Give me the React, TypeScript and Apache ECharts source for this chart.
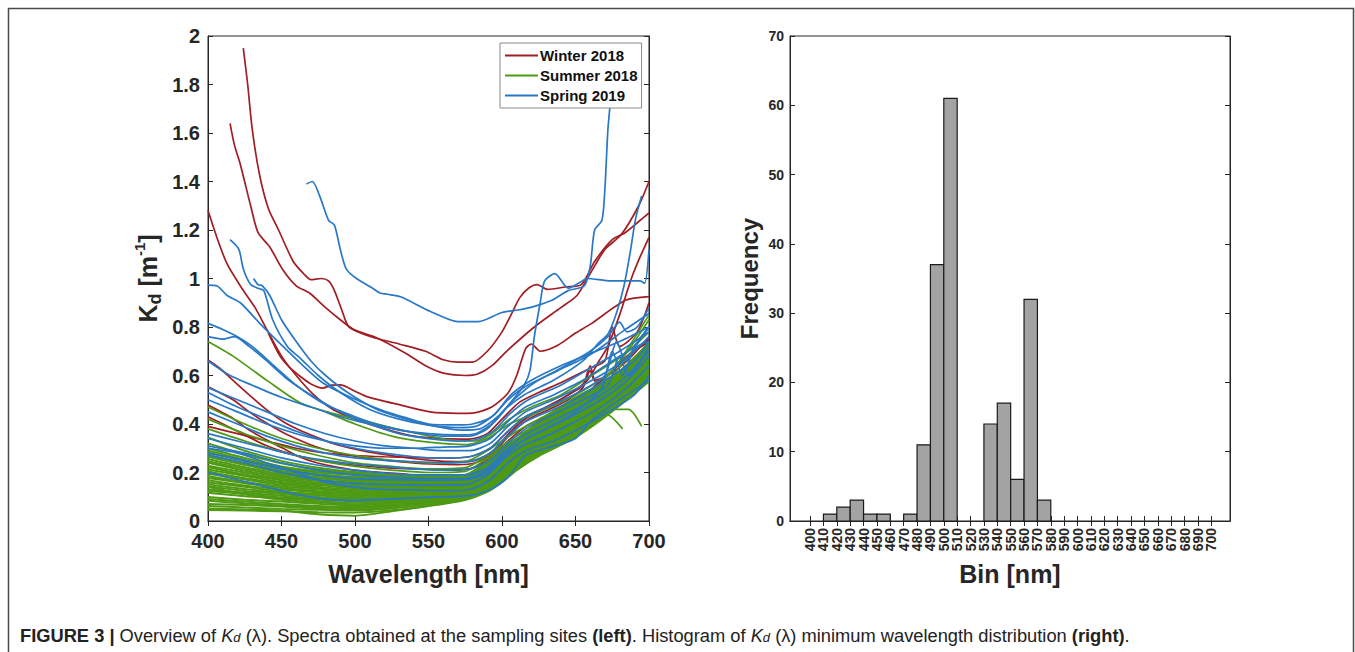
import React, { useEffect, useRef } from "react";
import * as echarts from "echarts";

// ---------------- DATA ----------------
// Left panel: Kd(λ) spectra, each line is a list of [wavelength nm, Kd m^-1]
const winterLines: number[][][] = [
  [[424,1.95],[427,1.8],[430,1.62],[435,1.43],[441,1.29],[448,1.2],[458,1.07],[465,1.02],[470,0.995],[477,1.0],[482,0.99],[486,0.95],[491,0.87],[496,0.8],[511,0.76],[530,0.73],[548,0.70],[560,0.665],[570,0.655],[580,0.655],[590,0.70],[600,0.78],[607,0.86],[612,0.92],[618,0.96],[624,0.975],[631,0.955],[643,0.965],[654,0.975],[663,1.07],[675,1.16],[684,1.19],[693,1.235],[700,1.27]],
  [[415,1.64],[418,1.55],[422,1.47],[429,1.3],[434,1.19],[442,1.13],[451,1.035],[460,0.97],[469,0.94],[480,0.88],[490,0.83],[499,0.79],[515,0.755],[535,0.69],[548,0.64],[560,0.61],[575,0.60],[583,0.605],[593,0.64],[604,0.705],[622,0.8],[640,0.88],[651,0.93],[660,1.02],[670,1.12],[681,1.18],[693,1.30],[700,1.40]],
  [[441,0.776],[449,0.68],[456,0.63],[463,0.595],[470,0.565],[478,0.548],[484,0.56],[490,0.561],[500,0.535],[508,0.513],[531,0.478],[551,0.45],[570,0.444],[580,0.445],[593,0.47],[604,0.527],[610,0.6],[616,0.71],[620,0.73],[626,0.70],[638,0.725],[650,0.775],[661,0.815],[684,0.91],[700,0.925]],
  [[400,1.28],[406,1.17],[413,1.06],[423,0.96],[432,0.88],[440,0.79],[450,0.68],[460,0.60],[472,0.52],[485,0.46],[500,0.42],[520,0.38],[540,0.35],[560,0.34],[578,0.338],[590,0.36],[600,0.42],[612,0.49],[625,0.53],[640,0.57],[660,0.63],[670,0.66],[675,0.80],[680,0.72],[692,0.78],[700,0.9]],
  [[400,0.664],[408,0.63],[417,0.58],[428,0.52],[440,0.458],[451,0.41],[462,0.375],[474,0.345],[485,0.32],[497,0.3],[508,0.286],[530,0.265],[551,0.25],[570,0.245],[582,0.25],[594,0.29],[606,0.37],[618,0.43],[632,0.47],[645,0.52],[658,0.58],[666,0.66],[672,0.72],[680,0.85],[688,1.0],[694,1.09],[700,1.17]],
  [[400,0.554],[417,0.5],[428,0.45],[440,0.403],[451,0.365],[462,0.334],[474,0.305],[485,0.286],[497,0.27],[508,0.26],[530,0.245],[551,0.235],[570,0.232],[582,0.24],[594,0.28],[606,0.36],[618,0.42],[632,0.46],[645,0.5],[655,0.55],[660,0.62],[663,0.58],[672,0.6],[685,0.66],[700,0.76]],
  [[400,0.478],[417,0.423],[428,0.375],[440,0.334],[451,0.3],[462,0.265],[474,0.24],[485,0.225],[497,0.212],[508,0.205],[530,0.195],[551,0.185],[570,0.185],[582,0.19],[594,0.23],[606,0.31],[618,0.37],[632,0.41],[645,0.46],[660,0.52],[672,0.6],[685,0.68],[700,0.74]],
  [[400,0.43],[420,0.37],[440,0.31],[460,0.27],[480,0.245],[500,0.23],[520,0.22],[540,0.215],[560,0.21],[578,0.215],[592,0.26],[604,0.33],[616,0.39],[630,0.43],[645,0.47],[660,0.54],[675,0.62],[690,0.7],[700,0.75]],
  [[400,0.39],[420,0.36],[440,0.33],[460,0.3],[480,0.28],[500,0.27],[520,0.265],[540,0.262],[560,0.26],[578,0.265],[592,0.3],[604,0.37],[616,0.43],[630,0.47],[645,0.52],[655,0.56],[660,0.64],[664,0.57],[675,0.62],[690,0.7],[700,0.74]],
];

const summerWavelengths = [400,425,450,475,500,525,550,575,590,600,610,625,650,675,700];
const summerBand: number[][] = [
  [.045,.043,.040,.036,.035,.044,.062,.087,.120,.160,.210,.268,.345,.452,.575],
  [.052,.047,.043,.028,.022,.040,.063,.090,.124,.165,.214,.275,.350,.455,.580],
  [.062,.056,.050,.046,.044,.052,.069,.093,.128,.170,.219,.279,.355,.460,.586],
  [.070,.066,.060,.051,.047,.058,.075,.097,.132,.174,.222,.284,.361,.463,.590],
  [.083,.073,.064,.057,.053,.063,.078,.100,.137,.178,.226,.287,.366,.468,.596],
  [.091,.080,.070,.062,.058,.067,.083,.104,.141,.183,.231,.292,.372,.472,.600],
  [.099,.088,.080,.071,.064,.073,.086,.108,.145,.186,.235,.298,.377,.478,.606],
  [.140,.110,.088,.077,.069,.078,.091,.110,.149,.191,.238,.300,.383,.481,.612],
  [.116,.102,.093,.082,.075,.083,.094,.114,.154,.196,.245,.305,.387,.486,.615],
  [.124,.111,.097,.089,.081,.088,.099,.117,.157,.200,.247,.311,.394,.490,.621],
  [.130,.117,.104,.093,.085,.091,.103,.121,.160,.204,.252,.314,.398,.495,.626],
  [.143,.124,.111,.099,.092,.097,.106,.124,.166,.209,.255,.320,.403,.499,.630],
  [.151,.132,.116,.106,.097,.102,.111,.127,.169,.213,.260,.323,.410,.503,.635],
  [.159,.141,.122,.111,.103,.107,.115,.131,.174,.218,.264,.328,.414,.508,.641],
  [.168,.146,.130,.118,.108,.112,.118,.134,.178,.222,.268,.333,.420,.512,.645],
  [.177,.156,.136,.123,.114,.117,.123,.138,.183,.228,.272,.338,.425,.518,.650],
  [.186,.161,.142,.130,.119,.122,.126,.141,.186,.233,.276,.342,.431,.522,.656],
  [.195,.171,.149,.135,.125,.127,.131,.145,.190,.237,.281,.346,.436,.527,.660],
  [.204,.176,.156,.141,.130,.133,.135,.148,.195,.241,.285,.351,.441,.530,.666],
  [.212,.186,.161,.148,.136,.136,.140,.152,.199,.246,.289,.356,.446,.536,.670],
  [.222,.192,.168,.152,.141,.142,.143,.155,.203,.250,.293,.361,.452,.540,.676],
  [.228,.200,.174,.158,.147,.146,.147,.158,.207,.254,.297,.364,.457,.545,.680],
  [.240,.207,.180,.165,.152,.151,.151,.161,.211,.259,.300,.369,.462,.549,.686],
  [.246,.215,.187,.169,.158,.155,.155,.164,.215,.263,.305,.373,.468,.553,.690],
  [.256,.222,.193,.176,.164,.161,.160,.168,.219,.268,.309,.378,.473,.558,.696],
  [.265,.231,.200,.181,.169,.165,.163,.171,.224,.272,.314,.382,.478,.562,.700],
  [.274,.237,.206,.188,.175,.171,.168,.175,.228,.277,.318,.387,.484,.567,.706],
  [.283,.246,.213,.193,.181,.175,.172,.178,.232,.281,.322,.391,.489,.571,.710],
  [.291,.252,.220,.200,.189,.180,.176,.182,.236,.286,.326,.396,.495,.576,.715],
  [.300,.260,.225,.205,.195,.185,.180,.185,.240,.290,.330,.400,.500,.580,.720],
  [.320,.275,.238,.212,.198,.188,.183,.188,.244,.294,.334,.404,.505,.586,.728],
  [.345,.290,.248,.220,.202,.190,.185,.191,.247,.297,.338,.409,.510,.592,.735],
];
const summerExtra: number[][][] = [
  [[400,0.74],[417,0.68],[440,0.58],[462,0.49],[481,0.45],[508,0.41],[535,0.37],[551,0.35],[570,0.33],[582,0.33],[593,0.36],[605,0.42],[620,0.47],[640,0.52],[661,0.6],[684,0.69],[700,0.78]],
  [[400,0.47],[425,0.40],[450,0.34],[475,0.30],[500,0.27],[525,0.25],[550,0.24],[575,0.245],[590,0.29],[600,0.33],[610,0.37],[625,0.42],[650,0.5],[675,0.6],[700,0.8]],
  [[400,0.42],[425,0.36],[450,0.31],[475,0.27],[500,0.24],[525,0.225],[550,0.215],[575,0.22],[590,0.27],[600,0.31],[610,0.35],[625,0.4],[650,0.48],[675,0.57],[700,0.74]],
  [[400,0.38],[425,0.33],[450,0.285],[475,0.25],[500,0.225],[525,0.21],[550,0.20],[575,0.205],[590,0.26],[600,0.3],[610,0.34],[625,0.39],[650,0.47],[675,0.62],[700,0.85]],
  [[480,0.45],[500,0.40],[525,0.35],[550,0.325],[575,0.315],[590,0.34],[605,0.4],[625,0.45],[650,0.52],[675,0.62],[700,0.83]],
  [[640,0.38],[655,0.41],[665,0.43],[671,0.44],[682,0.38]],
  [[655,0.42],[670,0.46],[686,0.46],[690,0.44],[695,0.39]],
];

const springLines: number[][][] = [
  [[467,1.39],[471,1.40],[476,1.34],[482,1.24],[486,1.22],[490,1.12],[494,1.04],[501,1.0],[512,0.96],[517,0.94],[522,0.935],[531,0.925],[551,0.865],[570,0.822],[584,0.822],[600,0.86],[611,0.87],[622,0.885],[634,0.91],[645,0.95],[656,0.97],[660,1.05],[663,1.2],[668,1.24],[670,1.37],[672,1.61],[674,1.75],[676,1.95]],
  [[415,1.16],[421,1.12],[424,1.04],[429,0.975],[434,0.96],[438,0.95],[444,0.83],[454,0.72],[463,0.67],[475,0.60],[490,0.53],[510,0.46],[530,0.42],[550,0.395],[570,0.385],[582,0.39],[595,0.44],[606,0.52],[620,0.58],[640,0.64],[660,0.69],[680,0.74],[700,0.80]],
  [[431,1.0],[434,0.975],[437,0.97],[442,0.93],[450,0.83],[460,0.74],[470,0.66],[480,0.60],[495,0.53],[515,0.46],[535,0.42],[555,0.39],[572,0.375],[585,0.38],[597,0.43],[608,0.50],[622,0.57],[640,0.63],[660,0.7],[672,0.76],[680,0.82],[685,0.78],[692,0.8],[700,0.88]],
  [[400,0.66],[415,0.6],[430,0.56],[450,0.51],[470,0.47],[490,0.43],[510,0.4],[530,0.375],[550,0.36],[570,0.355],[582,0.36],[595,0.41],[606,0.49],[615,0.56],[619,0.62],[622,0.76],[626,0.9],[629,0.99],[636,1.02],[645,0.96],[652,0.98],[658,1.0],[674,0.99],[694,0.99],[697,0.98],[700,1.12]],
  [[400,0.815],[410,0.79],[420,0.76],[430,0.72],[445,0.64],[460,0.56],[480,0.48],[500,0.43],[520,0.39],[540,0.365],[560,0.35],[578,0.35],[590,0.38],[602,0.46],[615,0.52],[635,0.58],[655,0.66],[665,0.73],[672,0.77],[678,0.86],[683,0.97],[687,1.1],[691,1.25],[695,1.34]],
  [[400,0.973],[406,0.97],[413,0.93],[422,0.9],[436,0.81],[451,0.72],[463,0.65],[478,0.57],[497,0.51],[517,0.46],[535,0.425],[550,0.40],[570,0.396],[580,0.40],[593,0.43],[604,0.5],[616,0.555],[638,0.62],[661,0.69],[684,0.79],[700,0.856]],
  [[400,0.76],[410,0.75],[418,0.76],[428,0.72],[440,0.66],[455,0.58],[470,0.52],[490,0.45],[510,0.40],[530,0.36],[550,0.34],[570,0.33],[582,0.335],[594,0.37],[605,0.44],[618,0.5],[640,0.56],[660,0.63],[680,0.7],[700,0.78]],
  [[400,0.55],[420,0.5],[440,0.45],[460,0.40],[480,0.36],[500,0.33],[520,0.31],[540,0.3],[560,0.29],[578,0.29],[592,0.32],[604,0.39],[616,0.45],[635,0.5],[655,0.56],[675,0.63],[690,0.7],[700,0.76]],
  [[400,0.53],[420,0.47],[440,0.42],[460,0.37],[480,0.33],[500,0.3],[520,0.28],[540,0.265],[560,0.26],[578,0.265],[592,0.3],[604,0.37],[616,0.43],[635,0.48],[655,0.54],[670,0.6],[678,0.74],[684,0.66],[692,0.72],[700,0.74]],
  [[400,0.36],[420,0.33],[440,0.3],[460,0.27],[480,0.25],[500,0.235],[520,0.225],[540,0.215],[560,0.21],[578,0.215],[592,0.25],[604,0.32],[616,0.38],[635,0.44],[655,0.5],[672,0.56],[680,0.68],[686,0.6],[700,0.72]],
  [[400,0.34],[425,0.3],[450,0.26],[475,0.23],[500,0.21],[525,0.195],[550,0.19],[575,0.19],[590,0.22],[602,0.29],[614,0.35],[630,0.4],[650,0.46],[670,0.53],[685,0.6],[700,0.7]],
  [[400,0.31],[425,0.28],[450,0.24],[475,0.21],[500,0.19],[525,0.18],[550,0.175],[575,0.175],[590,0.21],[602,0.28],[614,0.33],[630,0.38],[650,0.44],[670,0.51],[685,0.58],[700,0.68]],
  [[400,0.27],[425,0.24],[450,0.2],[475,0.17],[500,0.155],[525,0.15],[550,0.148],[575,0.15],[590,0.19],[602,0.26],[614,0.31],[630,0.35],[650,0.41],[670,0.48],[685,0.55],[700,0.64]],
  [[400,0.30],[420,0.28],[440,0.24],[460,0.2],[480,0.16],[500,0.14],[520,0.13],[540,0.128],[560,0.125],[578,0.13],[592,0.17],[604,0.24],[616,0.29],[635,0.33],[655,0.39],[675,0.46],[690,0.52],[700,0.6]],
  [[400,0.20],[420,0.17],[440,0.14],[460,0.11],[485,0.087],[500,0.085],[520,0.09],[540,0.095],[560,0.1],[578,0.105],[592,0.13],[604,0.18],[616,0.27],[630,0.3],[650,0.34],[661,0.416],[680,0.5],[700,0.58]],
  [[400,0.28],[425,0.25],[450,0.215],[475,0.19],[500,0.175],[525,0.17],[550,0.168],[575,0.17],[590,0.2],[602,0.27],[614,0.33],[630,0.38],[650,0.45],[668,0.55],[675,0.7],[682,0.6],[690,0.72],[700,0.8]],
  [[400,0.45],[420,0.4],[440,0.35],[460,0.31],[480,0.28],[500,0.26],[520,0.25],[540,0.245],[560,0.24],[578,0.245],[592,0.28],[604,0.35],[616,0.41],[635,0.46],[655,0.52],[675,0.6],[690,0.66],[700,0.74]],
  [[400,0.5],[420,0.45],[440,0.4],[460,0.36],[480,0.33],[500,0.31],[520,0.3],[540,0.3],[560,0.305],[578,0.31],[592,0.34],[604,0.41],[616,0.47],[635,0.52],[655,0.58],[675,0.66],[690,0.72],[700,0.8]],
];

// Right panel: histogram of minimum wavelength
const histBinStart = [400,410,420,430,440,450,460,470,480,490,500,510,520,530,540,550,560,570,580,590,600,610,620,630,640,650,660,670,680,690];
const histCounts   = [0,1,2,3,1,1,0,1,11,37,61,0,0,14,17,6,32,3,0,0,0,0,0,0,0,0,0,0,0,0];
const histTickValues = [400,410,420,430,440,450,460,470,480,490,500,510,520,530,540,550,560,570,580,590,600,610,620,630,640,650,660,670,680,690,700];
const histAxisMin = 385;
const histAxisMax = 714;

const seasonNames = ["Winter 2018", "Summer 2018", "Spring 2019"];
const seasonColors = ["#A01E24", "#4F9A14", "#2878C6"];

// ---------------- CHART ----------------
const FONT = "'Liberation Sans', Arial, Helvetica, sans-serif";
const AX = "#262626";
const CAP_FONT = "'Liberation Sans', Arial, sans-serif";

function lineSeries(name: string, color: string, data: number[][], width: number) {
  return {
    type: "line",
    name,
    xAxisIndex: 0,
    yAxisIndex: 0,
    data,
    symbol: "none",
    showSymbol: false,
    smooth: 0.25,
    silent: true,
    lineStyle: { color, width },
    itemStyle: { color },
  };
}

function buildOption() {
  const series: any[] = [];
  winterLines.forEach((l) => series.push(lineSeries(seasonNames[0], seasonColors[0], l, 1.7)));
  summerBand.forEach((row) =>
    series.push(lineSeries(seasonNames[1], seasonColors[1], summerWavelengths.map((w, i) => [w, row[i]]), 2))
  );
  summerExtra.forEach((l) => series.push(lineSeries(seasonNames[1], seasonColors[1], l, 1.7)));
  springLines.forEach((l) => series.push(lineSeries(seasonNames[2], seasonColors[2], l, 1.7)));

  const histData = histBinStart
    .map((s, i) => [s, s + 10, histCounts[i]])
    .filter((d) => d[2] > 0);

  series.push({
    type: "custom",
    xAxisIndex: 2,
    yAxisIndex: 2,
    silent: true,
    data: histData,
    encode: { x: [0, 1], y: 2 },
    renderItem: (params: any, api: any) => {
      const p0 = api.coord([api.value(0), api.value(2)]);
      const p1 = api.coord([api.value(1), 0]);
      return {
        type: "rect",
        shape: { x: p0[0], y: p0[1], width: p1[0] - p0[0], height: p1[1] - p0[1] },
        style: { fill: "#A3A3A3", stroke: "#1a1a1a", lineWidth: 1.2 },
      };
    },
  });

  const tickInside = { show: true, inside: true, length: 5, lineStyle: { color: AX, width: 1 } };
  const axLine = { show: true, lineStyle: { color: AX, width: 1 } };
  // padded with the axis ends so ECharts' min/max label handling only touches the (blank) end labels
  const histLabelValues = [histAxisMin, ...histTickValues, histAxisMax];

  return {
    animation: false,
    backgroundColor: "#ffffff",
    grid: [
      { left: 208, top: 36, width: 441, height: 485, show: true, borderColor: AX, borderWidth: 1 },
      { left: 790, top: 36, width: 440, height: 485, show: true, borderColor: AX, borderWidth: 1 },
    ],
    legend: {
      data: seasonNames,
      orient: "vertical",
      left: 500,
      top: 43,
      icon: "rect",
      itemWidth: 33,
      itemHeight: 2,
      itemGap: 5,
      padding: [5, 4, 5, 5],
      backgroundColor: "#ffffff",
      borderColor: "#8a8a8a",
      borderWidth: 1,
      borderRadius: 0,
      selectedMode: false,
      textStyle: { fontSize: 15, fontWeight: "bold", color: "#111", fontFamily: FONT, lineHeight: 15, padding: [0, 0, 0, -3] },
    },
    xAxis: [
      {
        gridIndex: 0, type: "value", min: 400, max: 700, interval: 50, position: "bottom",
        axisLine: axLine, axisTick: tickInside, splitLine: { show: false },
        axisLabel: { fontSize: 20, fontWeight: "bold", color: AX, fontFamily: FONT, margin: 11, lineHeight: 18 },
        name: "Wavelength [nm]", nameLocation: "middle", nameGap: 40,
        nameTextStyle: { fontSize: 25, fontWeight: "bold", color: AX, fontFamily: FONT },
      },
      {
        gridIndex: 0, type: "value", min: 400, max: 700, interval: 50, position: "top",
        axisLine: axLine, axisTick: tickInside, axisLabel: { show: false }, splitLine: { show: false },
      },
      {
        gridIndex: 1, type: "value", min: histAxisMin, max: histAxisMax, position: "bottom",
        axisLine: axLine,
        axisTick: { ...tickInside, customValues: histLabelValues },
        splitLine: { show: false },
        axisLabel: {
          customValues: histLabelValues, rotate: 90, fontSize: 14, fontWeight: "bold",
          color: AX, fontFamily: FONT, margin: 7,
          showMinLabel: false, showMaxLabel: false, hideOverlap: false,
          formatter: (v: number) => (v === histAxisMin || v === histAxisMax ? "" : String(v)),
        },
        name: "Bin [nm]", nameLocation: "middle", nameGap: 40,
        nameTextStyle: { fontSize: 25, fontWeight: "bold", color: AX, fontFamily: FONT },
      },
      {
        gridIndex: 1, type: "value", min: histAxisMin, max: histAxisMax, position: "top",
        axisLine: axLine,
        axisTick: { ...tickInside, customValues: histTickValues },
        axisLabel: { show: false }, splitLine: { show: false },
      },
    ],
    yAxis: [
      {
        gridIndex: 0, type: "value", min: 0, max: 2, interval: 0.2, position: "left",
        axisLine: axLine, axisTick: tickInside, splitLine: { show: false },
        axisLabel: { fontSize: 20, fontWeight: "bold", color: AX, fontFamily: FONT, margin: 8, lineHeight: 16 },
        name: "{a|K}{s|d}{a| [m}{p|-1}{a|]}", nameLocation: "middle", nameGap: 44,
        nameTextStyle: {
          color: AX, fontFamily: FONT,
          rich: {
            a: { fontSize: 25, fontWeight: "bold", color: AX, fontFamily: FONT, lineHeight: 32, verticalAlign: "middle" },
            s: { fontSize: 18, fontWeight: "bold", color: AX, fontFamily: FONT, lineHeight: 18, verticalAlign: "bottom" },
            p: { fontSize: 15, fontWeight: "bold", color: AX, fontFamily: FONT, lineHeight: 15, verticalAlign: "top" },
          },
        },
      },
      {
        gridIndex: 0, type: "value", min: 0, max: 2, interval: 0.2, position: "right",
        axisLine: axLine, axisTick: tickInside, axisLabel: { show: false }, splitLine: { show: false },
      },
      {
        gridIndex: 1, type: "value", min: 0, max: 70, interval: 10, position: "left",
        axisLine: axLine, axisTick: tickInside, splitLine: { show: false },
        axisLabel: { fontSize: 14, fontWeight: "bold", color: AX, fontFamily: FONT, margin: 6 },
        name: "Frequency", nameLocation: "middle", nameGap: 29,
        nameTextStyle: { fontSize: 24, fontWeight: "bold", color: AX, fontFamily: FONT },
      },
      {
        gridIndex: 1, type: "value", min: 0, max: 70, interval: 10, position: "right",
        axisLine: axLine, axisTick: tickInside, axisLabel: { show: false }, splitLine: { show: false },
      },
    ],
    graphic: [
      {
        type: "rect",
        silent: true,
        shape: { x: 8.5, y: 8.5, width: 1345, height: 720 },
        style: { fill: "none", stroke: "#4a4a4a", lineWidth: 1.5 },
        z: 0,
      },
      {
        type: "text",
        silent: true,
        x: 20,
        y: 635,
        style: {
          text:
            "{b|FIGURE 3} {b||} Overview of {i|K}{is|d} (λ). Spectra obtained at the sampling sites {b|(left)}. Histogram of {i|K}{is|d} (λ) minimum wavelength distribution {b|(right)}.",
          font: "18.3px " + CAP_FONT,
          fill: "#222",
          verticalAlign: "middle",
          rich: {
            b: { fontWeight: "bold", fontSize: 18.3, fontFamily: CAP_FONT, fill: "#222" },
            i: { fontStyle: "italic", fontSize: 18.3, fontFamily: CAP_FONT, fill: "#222" },
            is: { fontStyle: "italic", fontSize: 13, fontFamily: CAP_FONT, fill: "#222", verticalAlign: "bottom", lineHeight: 13 },
          },
        },
      },
    ],
    series,
  };
}

export default function App() {
  const ref = useRef<HTMLDivElement>(null);
  useEffect(() => {
    if (!ref.current) return;
    const chart = echarts.init(ref.current, null, { renderer: "svg" });
    chart.setOption(buildOption() as any);
    return () => chart.dispose();
  }, []);
  return (
    <div
      ref={ref}
      style={{ position: "fixed", left: 0, top: 0, width: 1355, height: 652, background: "#fff" }}
    />
  );
}
